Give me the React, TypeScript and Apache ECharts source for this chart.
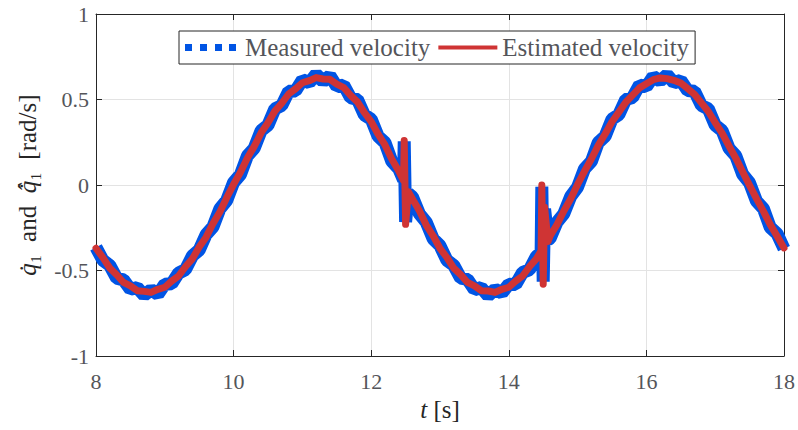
import React, { useEffect, useRef } from "react";
import * as echarts from "echarts";

// time stamps [s]
const time = [
  8.0, 8.1, 8.2, 8.3, 8.4, 8.5, 8.6, 8.7, 8.8, 8.9,
  9.0, 9.1, 9.2, 9.3, 9.4, 9.5, 9.6, 9.7, 9.8, 9.9,
  10.0, 10.1, 10.2, 10.3, 10.4, 10.5, 10.6, 10.7, 10.8, 10.9,
  11.0, 11.1, 11.2, 11.3, 11.4, 11.5, 11.6, 11.7, 11.8, 11.9,
  12.0, 12.1, 12.2, 12.3, 12.4,
  12.47, 12.48, 12.5, 12.54,
  12.6, 12.7, 12.8, 12.9, 13.0, 13.1, 13.2, 13.3, 13.4, 13.5,
  13.6, 13.7, 13.8, 13.9, 14.0, 14.1, 14.2, 14.3, 14.4,
  14.47, 14.48, 14.5, 14.52, 14.57,
  14.6, 14.7, 14.8, 14.9, 15.0, 15.1, 15.2, 15.3, 15.4, 15.5,
  15.6, 15.7, 15.8, 15.9, 16.0, 16.1, 16.2, 16.3, 16.4, 16.5,
  16.6, 16.7, 16.8, 16.9, 17.0, 17.1, 17.2, 17.3, 17.4, 17.5,
  17.6, 17.7, 17.8, 17.9, 18.0,
];

// measured velocity [rad/s]
const measured = [
  -0.365, -0.44, -0.47, -0.545, -0.555, -0.61, -0.6, -0.645, -0.612, -0.64,
  -0.58, -0.578, -0.515, -0.495, -0.415, -0.38, -0.29, -0.245, -0.14, -0.09,
  0.015, 0.062, 0.17, 0.215, 0.318, 0.35, 0.445, 0.465, 0.548, 0.55,
  0.615, 0.598, 0.648, 0.605, 0.64, 0.575, 0.585, 0.51, 0.5, 0.41,
  0.385, 0.285, 0.248, 0.138, 0.095,
  0.03, 0.255, -0.215, -0.05,
  -0.07, -0.168, -0.218, -0.315, -0.355, -0.44, -0.47, -0.545, -0.552, -0.612,
  -0.6, -0.648, -0.61, -0.632, -0.58, -0.582, -0.512, -0.495, -0.418,
  -0.395, -0.01, -0.565, -0.14, -0.32,
  -0.312, -0.218, -0.168, -0.066, -0.012, 0.094, 0.138, 0.248, 0.285, 0.385,
  0.412, 0.5, 0.512, 0.585, 0.575, 0.635, 0.608, 0.645, 0.598, 0.612,
  0.552, 0.548, 0.465, 0.445, 0.35, 0.318, 0.215, 0.17, 0.062, 0.012,
  -0.094, -0.138, -0.248, -0.285, -0.372,
];

// estimated velocity [rad/s]
const estimated = [
  -0.37, -0.425, -0.485, -0.525, -0.57, -0.59, -0.618, -0.622, -0.628, -0.61,
  -0.598, -0.562, -0.532, -0.478, -0.432, -0.362, -0.305, -0.226, -0.158, -0.074,
  0.004, 0.075, 0.158, 0.226, 0.305, 0.364, 0.432, 0.478, 0.532, 0.562,
  0.598, 0.61, 0.628, 0.62, 0.618, 0.59, 0.57, 0.524, 0.486, 0.424,
  0.371, 0.297, 0.234, 0.151, 0.082,
  0.025, 0.26, -0.23, -0.04,
  -0.082, -0.151, -0.234, -0.297, -0.371, -0.424, -0.486, -0.524, -0.57, -0.59,
  -0.618, -0.62, -0.628, -0.61, -0.598, -0.562, -0.532, -0.478, -0.432,
  -0.385, 0.0, -0.58, -0.13, -0.33,
  -0.298, -0.232, -0.152, -0.08, 0.003, 0.08, 0.152, 0.232, 0.298, 0.37,
  0.426, 0.484, 0.526, 0.568, 0.592, 0.616, 0.626, 0.622, 0.612, 0.596,
  0.564, 0.53, 0.48, 0.43, 0.365, 0.303, 0.228, 0.157, 0.076, -0.002,
  -0.08, -0.153, -0.232, -0.299, -0.368,
];

const seriesNames = ["Measured velocity", "Estimated velocity"];
const BLUE = "#0054e4";
const RED = "#cf3434";
const AXIS = "#262626";
const FONT = "Liberation Serif";

export default function App() {
  const ref = useRef<HTMLDivElement>(null);

  useEffect(() => {
    document.body.style.margin = "0";
    const chart = echarts.init(ref.current!, null, { renderer: "svg" });
    const mData = time.map((t, i) => [t, measured[i]]);
    const eData = time.map((t, i) => [t, estimated[i]]);

    const baseX = { type: "value" as const, min: 8, max: 18, interval: 2 };
    const baseY = { type: "value" as const, min: -1, max: 1, interval: 0.5 };
    const tick = () => ({ show: true, inside: true, length: 6, lineStyle: { color: AXIS } });
    const line = () => ({ show: true, onZero: false, lineStyle: { color: AXIS, width: 1 } });

    chart.setOption({
      animation: false,
      backgroundColor: "#ffffff",
      grid: { left: 96, right: 13, top: 14, bottom: 74, containLabel: false },
      legend: {
        left: 179,
        top: 31,
        orient: "horizontal",
        itemWidth: 59,
        itemHeight: 7,
        itemGap: 8,
        padding: [4, 6, 4, 6],
        borderColor: AXIS,
        borderWidth: 1,
        backgroundColor: "#ffffff",
        itemStyle: { borderWidth: 0 },
        textStyle: { fontFamily: FONT, fontSize: 25, fontWeight: "normal" },
        data: [
          {
            name: seriesNames[0],
            icon: "path://M0,0h7v7h-7z M15,0h7v7h-7z M30,0h7v7h-7z M44,0h7v7h-7z",
          },
          { name: seriesNames[1], icon: "path://M0,0h59v4h-59z" },
        ],
      },
      xAxis: [
        {
          ...baseX,
          position: "bottom",
          name: "{i|t} [s]",
          nameLocation: "middle",
          nameGap: 38,
          nameTextStyle: {
            fontFamily: FONT,
            fontSize: 25,
            rich: { i: { fontStyle: "italic", fontFamily: FONT, fontSize: 25 } },
          },
          axisLine: line(),
          axisTick: tick(),
          axisLabel: { fontFamily: FONT, fontSize: 22, fontWeight: "normal", margin: 14 },
          splitLine: { show: true, lineStyle: { color: "#e3e3e3", width: 1 } },
        },
        {
          ...baseX,
          position: "top",
          axisLine: line(),
          axisTick: tick(),
          axisLabel: { show: false },
          splitLine: { show: false },
        },
      ],
      yAxis: [
        {
          ...baseY,
          position: "left",
          name: "{i|q̇}₁  and  {i|q̂̇}₁  [rad/s]",
          nameLocation: "middle",
          nameRotate: 90,
          nameGap: 56,
          nameTextStyle: {
            fontFamily: FONT,
            fontSize: 25,
            rich: { i: { fontStyle: "italic", fontFamily: FONT, fontSize: 25 } },
          },
          axisLine: line(),
          axisTick: tick(),
          axisLabel: { fontFamily: FONT, fontSize: 22, fontWeight: "normal", margin: 7 },
          splitLine: { show: true, lineStyle: { color: "#e3e3e3", width: 1 } },
        },
        {
          ...baseY,
          position: "right",
          axisLine: line(),
          axisTick: tick(),
          axisLabel: { show: false },
          splitLine: { show: false },
        },
      ],
      series: [
        {
          name: seriesNames[0],
          type: "line",
          data: mData,
          color: BLUE,
          showSymbol: false,
          symbol: "none",
          lineStyle: { color: BLUE, width: 13, join: "bevel", cap: "butt" },
          z: 2,
        },
        {
          name: seriesNames[1],
          type: "line",
          data: eData,
          color: RED,
          showSymbol: false,
          symbol: "none",
          lineStyle: { color: RED, width: 7, join: "round", cap: "round" },
          z: 3,
        },
      ],
    });

    return () => chart.dispose();
  }, []);

  return <div ref={ref} style={{ width: 798, height: 430 }} />;
}
